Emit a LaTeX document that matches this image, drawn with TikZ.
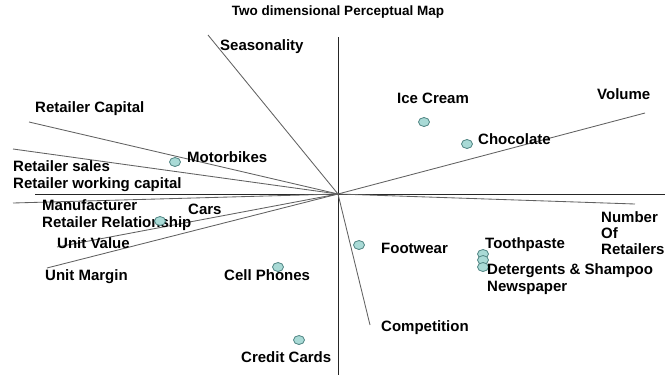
\documentclass[tikz,border=0pt]{standalone}
\usepackage{fontspec}
\setmainfont{Liberation Sans}
\usetikzlibrary{shapes.geometric}
\definecolor{dotfill}{HTML}{A9DAD6}
\definecolor{dotline}{HTML}{4F8482}
\begin{document}
\begin{tikzpicture}[x=1pt,y=-1pt,
  axisline/.style={draw=black!85,line width=0.9pt},
  vecline/.style={draw=black!62,line width=0.85pt},
  dot/.style={ellipse,draw=dotline,fill=dotfill,line width=0.8pt,inner sep=0pt,minimum width=11pt,minimum height=9pt},
  lbl/.style={anchor=west,inner sep=0pt,text height=11pt,text depth=3pt,font=\fontsize{15}{16}\selectfont\bfseries}]
\useasboundingbox (0,0) rectangle (665,375);
\node[inner sep=0pt,font=\fontsize{13.5}{15}\selectfont\bfseries] (title) at (338,12) {Two dimensional Perceptual Map};
\coordinate (O) at (338,194);
\coordinate (vtop) at (338,37);
\coordinate (vbot) at (338,375);
\coordinate (hleft) at (35,194);
\coordinate (hright) at (665,194);
\draw[axisline] (vtop) -- (vbot);
\draw[axisline] (hleft) -- (hright);
\coordinate (seas) at (208,35);
\coordinate (vol) at (645,113);
\coordinate (rcap) at (29,122);
\coordinate (rsal) at (13,149);
\coordinate (mfr) at (13,203);
\coordinate (uval) at (57,247);
\coordinate (umar) at (47,268);
\coordinate (comp) at (370,325);
\coordinate (nret) at (635,204);
\foreach \e in {seas,vol,rcap,rsal,mfr,uval,umar,comp,nret}
  \draw[vecline] (O) -- (\e);
\node[lbl] (seaslbl) at (220,46) {Seasonality};
\node[lbl] (vollbl) at (597,95) {Volume};
\node[lbl] (rcaplbl) at (35,108) {Retailer Capital};
\node[lbl] (rsallbl) at (13,167) {Retailer sales};
\node[lbl] (rwclbl) at (13,184) {Retailer working capital};
\node[lbl] (mfrlbl) at (42,206) {Manufacturer};
\node[lbl] (rrellbl) at (42,223) {Retailer Relationship};
\node[lbl] (uvallbl) at (57,244) {Unit Value};
\node[lbl] (umarlbl) at (45,276) {Unit Margin};
\node[lbl] (complbl) at (381,327) {Competition};
\node[lbl,align=left,text height=,text depth=] (nretlbl) at (601,233) {Number\\Of\\Retailers};
\node[dot] (icecream) at (424,122) {};
\node[lbl] (icecreamlbl) at (397,99) {Ice Cream};
\node[dot] (choc) at (467,144) {};
\node[lbl] (choclbl) at (478,140) {Chocolate};
\node[dot] (motor) at (175,162) {};
\node[lbl] (motorlbl) at (187,158) {Motorbikes};
\node[dot] (cars) at (160,221) {};
\node[lbl] (carslbl) at (188,210) {Cars};
\node[dot] (foot) at (359,245) {};
\node[lbl] (footlbl) at (381,249) {Footwear};
\node[dot] (tooth) at (483,254) {};
\node[dot] (deter) at (483,260) {};
\node[dot] (news) at (483,267) {};
\node[lbl] (toothlbl) at (485,244) {Toothpaste};
\node[lbl] (deterlbl) at (487,270) {Detergents \& Shampoo};
\node[lbl] (newslbl) at (487,287) {Newspaper};
\node[dot] (cell) at (278,267) {};
\node[lbl] (celllbl) at (224,276) {Cell Phones};
\node[dot] (credit) at (299,340) {};
\node[lbl] (creditlbl) at (241,358) {Credit Cards};
\end{tikzpicture}
\end{document}
